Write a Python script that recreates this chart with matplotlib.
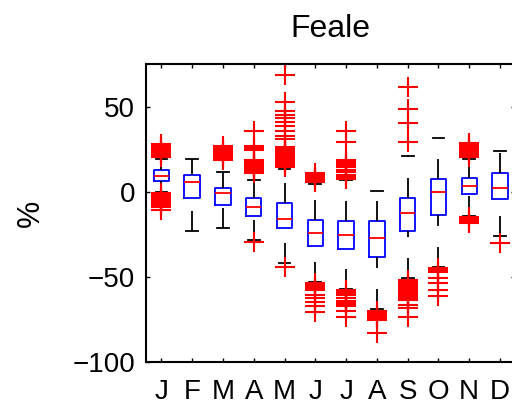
import matplotlib
matplotlib.use('Agg')
import matplotlib.pyplot as plt

plt.rcParams['font.family'] = ['Liberation Sans', 'DejaVu Sans']
plt.rcParams['lines.scale_dashes'] = False

# --- DATA ---
months = ['J', 'F', 'M', 'A', 'M', 'J', 'J', 'A', 'S', 'O', 'N', 'D']
q1 = [6.5, -3.9, -7.8, -14.1, -21.1, -31.8, -33.8, -38.1, -23.0, -13.7, -1.5, -4.5]
medians = [9.4, 5.5, -0.9, -8.8, -16.0, -24.0, -25.2, -27.1, -12.7, -0.2, 3.3, 2.2]
q3 = [12.7, 9.8, 2.2, -3.9, -6.8, -16.6, -17.2, -17.2, -3.9, 7.3, 7.9, 11.1]
whisker_lo = [0.0, -23.0, -21.1, -28.3, -41.7, -53.3, -56.9, -68.8, -50.8, -44.0, -14.2, -26.0]
whisker_hi = [19.0, 19.0, 11.7, 7.0, 13.5, 4.5, 6.9, 0.6, 20.9, 31.3, 19.0, 24.0]

outliers = [
    # Jan
    [28.0, 27.0, 26.0, 25.0, 24.0, 23.0, 22.0, 21.0, 20.3,
     -1.0, -2.0, -3.0, -4.0, -5.0, -6.0, -7.0, -8.0, -8.8, -11.0],
    # Feb
    [],
    # Mar
    [26.6, 25.6, 24.6, 23.6, 22.6, 21.6, 20.6, 19.6, 18.6],
    # Apr
    [35.8, 26.8, 25.5, 24.4, 18.6, 17.6, 16.6, 15.6, 14.6, 13.6, 12.6,
     11.7, 10.8, -29.4],
    # May
    [68.4, 52.8, 47.3, 45.0, 43.0, 41.0, 38.5, 35.8, 32.8, 30.7,
     26.4, 25.4, 24.4, 23.4, 22.4, 21.4, 20.4, 19.4, 18.4, 17.4, 16.4,
     15.4, 14.3, -44.3],
    # Jun
    [10.8, 9.8, 8.8, 7.8, 6.9, 5.9,
     -53.7, -54.7, -55.7, -56.7, -57.6, -60.6, -62.5, -64.8, -67.4, -70.5],
    # Jul
    [35.8, 29.3, 18.6, 17.6, 16.6, 15.6, 14.4, 12.8, 11.5, 10.0, 8.5, 7.3,
     -58.0, -59.0, -60.0, -60.6, -62.5, -64.0, -64.8, -66.0, -67.4,
     -70.3, -73.3],
    # Aug
    [-70.3, -71.3, -72.3, -73.3, -74.4, -75.6, -83.0],
    # Sep
    [61.2, 48.3, 40.1, 29.0,
     -51.8, -52.8, -53.8, -54.8, -55.8, -56.8, -57.8, -58.8, -59.8,
     -60.8, -61.8, -62.8, -63.5, -66.4, -68.4, -73.3],
    # Oct
    [-44.9, -46.0, -47.4, -50.4, -53.7, -57.6, -61.5],
    # Nov
    [28.4, 27.4, 26.4, 25.4, 24.4, 23.4, 22.4, 21.4, 20.5,
     -15.0, -16.0, -17.0, -18.2],
    # Dec
    [-30.3],
]

stats = []
for i in range(len(months)):
    stats.append(dict(med=medians[i], q1=q1[i], q3=q3[i],
                      whislo=whisker_lo[i], whishi=whisker_hi[i],
                      fliers=outliers[i]))

# --- PLOTTING ---
fig = plt.figure(figsize=(5.12, 4.05), dpi=100)
ax = fig.add_axes([146 / 512, 1 - 362 / 405, (515.4 - 146) / 512, (362 - 64) / 405])

bp = ax.bxp(stats, positions=range(1, 13), widths=0.5, capwidths=0.38,
            boxprops=dict(color='blue', lw=1.3),
            medianprops=dict(color='red', lw=1.3),
            whiskerprops=dict(color='black', lw=1.3, linestyle=(0, (14.4, 15.1))),
            capprops=dict(color='black', lw=1.3),
            flierprops=dict(marker='+', markeredgecolor='red', markersize=14,
                            markeredgewidth=1.5, linestyle='none'))

# dashes of the lower whisker start at the far end, like the original
for w in bp['whiskers'][0::2]:
    w.set_ydata(w.get_ydata()[::-1])

ax.set_xlim(0.5, 12.5)
ax.set_ylim(-100, 75)
ax.set_yticks([-100, -50, 0, 50])
ax.set_xticks(range(1, 13))
ax.set_xticklabels(months)
ax.tick_params(direction='in', top=True, right=True, length=3, width=1,
               labelsize=20)
ax.tick_params(axis='x', pad=12.5)
ax.tick_params(axis='y', pad=7.7)
for s in ax.spines.values():
    s.set_linewidth(1.5)

ax.set_title('Feale', fontsize=23, pad=19.5)
ax.set_ylabel('%', fontsize=22, labelpad=19)

fig.savefig('out.png', dpi=100)
